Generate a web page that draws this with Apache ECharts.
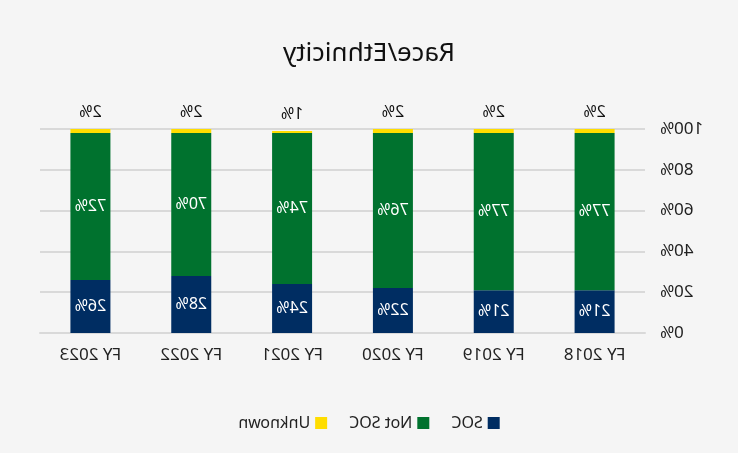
<!DOCTYPE html>
<html>
<head>
<meta charset="utf-8">
<script src="https://cdn.jsdelivr.net/npm/echarts@6/dist/echarts.min.js"></script>
<style>
html,body{margin:0;padding:0;background:#f5f5f5;}
#chart{width:738px;height:453px;transform:scaleX(-1);}
</style>
</head>
<body>
<div id="chart"></div>
<script>
const categories = ['FY 2018','FY 2019','FY 2020','FY 2021','FY 2022','FY 2023'];
const soc = [21,21,22,24,28,26];
const notSoc = [77,77,76,74,70,72];
const unknown = [2,2,2,1,2,2];
const yTicks = [0,20,40,60,80,100];

const font = 'Noto Sans';
const chart = echarts.init(document.getElementById('chart'));
chart.setOption({
  backgroundColor:'#f5f5f5',
  animation:false,
  title:{text:'Race/Ethnicity',left:'center',top:36,textStyle:{fontFamily:font,fontSize:26,fontWeight:'normal',color:'#111'}},
  legend:{bottom:17,left:'center',itemWidth:12,itemHeight:12,itemGap:22,icon:'rect',
    textStyle:{fontFamily:font,fontSize:16,color:'#222'},data:['SOC','Not SOC','Unknown']},
  grid:{left:93,right:40,top:129,bottom:120},
  xAxis:{type:'category',data:categories,
    axisLine:{lineStyle:{color:'#d9d9d9',width:2}},axisTick:{show:false},
    axisLabel:{fontFamily:font,fontSize:17,color:'#222',margin:14}},
  yAxis:{type:'value',min:yTicks[0],max:yTicks[yTicks.length-1],interval:20,
    axisLine:{show:false},axisTick:{show:false},
    splitLine:{lineStyle:{color:'#d9d9d9',width:2}},
    axisLabel:{fontFamily:font,fontSize:17,color:'#222',margin:15,formatter:'{value}%'}},
  series:[
    {name:'SOC',type:'bar',stack:'a',barWidth:40,data:soc,itemStyle:{color:'#002d62'},
      label:{show:true,position:'inside',color:'#fff',fontFamily:font,fontSize:16,formatter:'{c}%'}},
    {name:'Not SOC',type:'bar',stack:'a',barWidth:40,data:notSoc,itemStyle:{color:'#00722e'},
      label:{show:true,position:'inside',color:'#fff',fontFamily:font,fontSize:16,formatter:'{c}%'}},
    {name:'Unknown',type:'bar',stack:'a',barWidth:40,data:unknown,itemStyle:{color:'#ffdd00'},
      label:{show:true,position:'top',distance:9,color:'#111',fontFamily:font,fontSize:16,formatter:'{c}%'}}
  ]
});
</script>
</body>
</html>
